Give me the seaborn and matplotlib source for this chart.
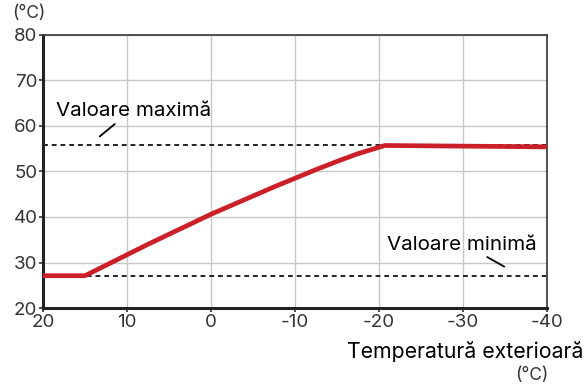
import numpy as np
import pandas as pd
import seaborn as sns
import matplotlib.pyplot as plt

# outdoor temperature vs supply temperature (heating curve)
outdoor = [20, 15, 12.5, 10, 7.5, 5, 2.5, 0, -2.5, -5, -7.5, -10, -12.5, -15, -17.5, -20.7, -40]
supply = [27.1, 27.1, 29.4, 31.7, 34.0, 36.2, 38.4, 40.6, 42.6, 44.6, 46.6, 48.5, 50.4, 52.2, 53.9, 55.7, 55.4]
max_value = 55.7
min_value = 27.1
x_ticks = [20, 10, 0, -10, -20, -30, -40]
y_ticks = [20, 30, 40, 50, 60, 70, 80]

sns.set_style("white")
plt.rcParams['font.family'] = ['Inter', 'DejaVu Sans']
plt.rcParams['axes.unicode_minus'] = False

df = pd.DataFrame({"outdoor": outdoor, "supply": supply})

fig = plt.figure(figsize=(5.84, 3.87), dpi=100)
ax = fig.add_axes([0.0736, 0.204, 0.863, 0.706])

ax.grid(True, color="#c8c8c8", linewidth=1.0)
ax.set_axisbelow(True)

ax.axhline(max_value, color="#222222", linestyle=(0, (2.5, 2)), linewidth=1.4, zorder=2)
ax.axhline(min_value, color="#222222", linestyle=(0, (2.5, 2)), linewidth=1.4, zorder=2)
sns.lineplot(data=df, x="outdoor", y="supply", ax=ax, color="#cc2029",
             linewidth=3.4, zorder=3, solid_capstyle="butt")

ax.set_xlim(20, -40)
ax.set_ylim(20, 80)
ax.set_xticks(x_ticks)
ax.set_yticks(y_ticks)
ax.set_xlabel("")
ax.set_ylabel("")
ax.tick_params(axis="both", colors="#333333", labelsize=13.5, length=3, width=1.2,
               direction="out", bottom=True, left=True, pad=1)
ax.tick_params(axis="both", labelcolor="#333333")

for side in ["left", "bottom"]:
    ax.spines[side].set_linewidth(2.2)
    ax.spines[side].set_color("#222222")
for side in ["top", "right"]:
    ax.spines[side].set_linewidth(1.3)
    ax.spines[side].set_color("#444444")

ax.text(18.5, 63.2, "Valoare maximă", fontsize=14.8, color="black", va="center", ha="left")
ax.annotate("", xy=(13.5, 57.3), xytext=(11.2, 60.8),
            arrowprops=dict(arrowstyle="-", color="black", lw=1.3))
ax.text(-38.8, 33.9, "Valoare minimă", fontsize=14.8, color="black", va="center", ha="right")
ax.annotate("", xy=(-35.2, 28.8), xytext=(-32.6, 31.5),
            arrowprops=dict(arrowstyle="-", color="black", lw=1.3))

fig.text(12 / 584, 1 - 13 / 387, "(°C)", fontsize=12.5, color="#333333", va="center", ha="left")
fig.text(583 / 584, 1 - 351 / 387, "Temperatură exterioară", fontsize=15.3, color="black",
         va="center", ha="right")
fig.text(532 / 584, 1 - 376 / 387, "(°C)", fontsize=12.5, color="#333333", va="center", ha="center")

fig.savefig("out.png", dpi=100)
